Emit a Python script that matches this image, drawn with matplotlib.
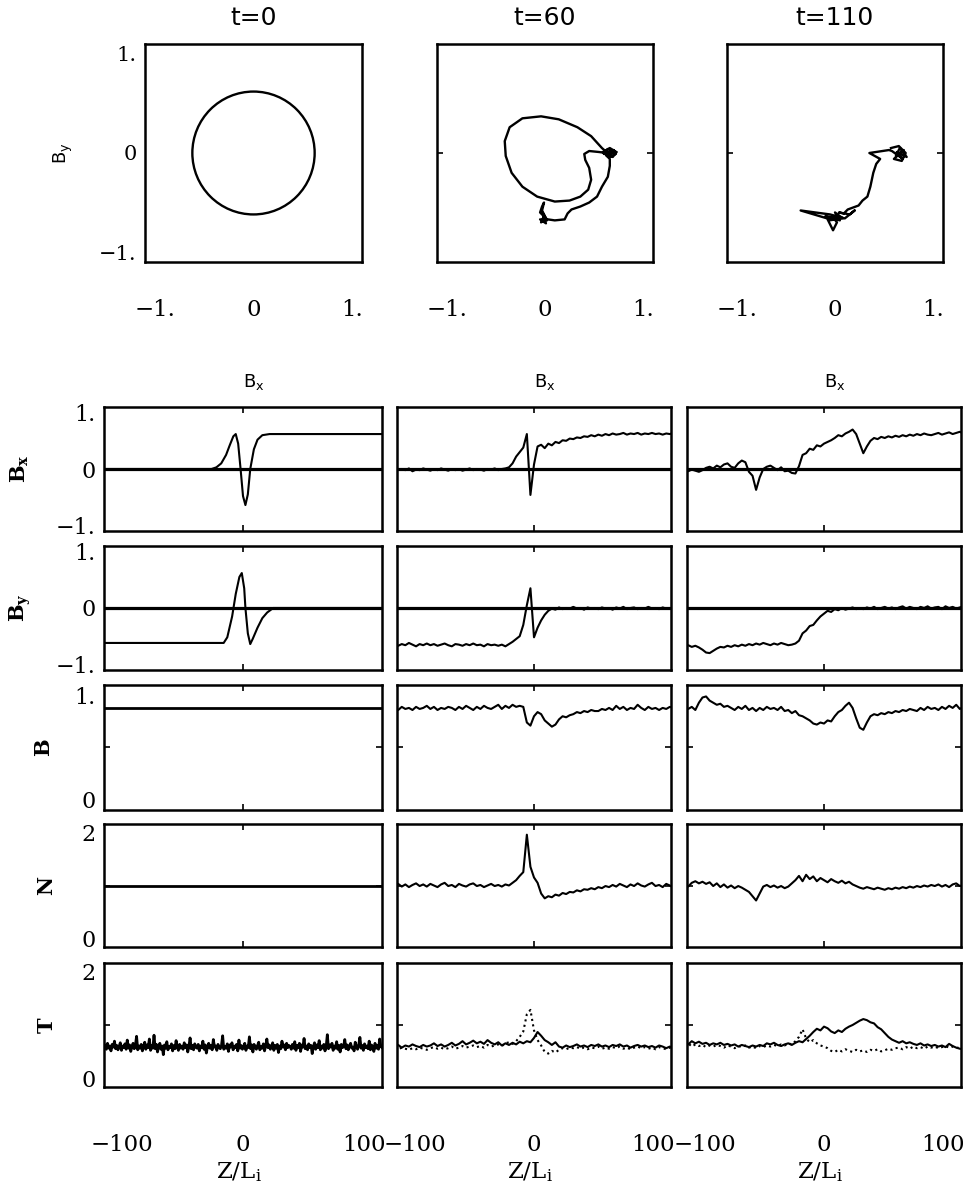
import matplotlib
matplotlib.use('Agg')
import matplotlib.pyplot as plt
from matplotlib.patches import Circle
import numpy as np

W, H = 963, 1191

titles = ['t=0', 't=60', 't=110']
row_names = [r'$\mathbf{B_x}$', r'$\mathbf{B_y}$', r'$\mathbf{B}$', r'$\mathbf{N}$', r'$\mathbf{T}$']

# ---- hodogramme (Bx, By) ----
b_perp0 = 0.62  # Radius des Kreises bei t=0

hx60 = [-0.02, 0.01, -0.04, -0.01, -0.05, -0.03, -0.01, -0.03, 0.02, -0.05, 0.01, -0.02, 0.03,
        0.10, 0.20, 0.23, 0.27, 0.36, 0.45, 0.53, 0.58, 0.64, 0.66, 0.66,
        0.62, 0.68, 0.72, 0.65, 0.59, 0.66, 0.71, 0.63, 0.69, 0.73, 0.64, 0.60, 0.70, 0.66,
        0.58, 0.47, 0.33, 0.14, -0.04, -0.23, -0.36, -0.41, -0.40, -0.34, -0.23, -0.08,
        0.10, 0.25, 0.36, 0.44, 0.47, 0.45, 0.41, 0.40, 0.45, 0.55, 0.62]
hy60 = [-0.61, -0.66, -0.70, -0.64, -0.60, -0.54, -0.50, -0.58, -0.68, -0.67, -0.71, -0.65, -0.67,
        -0.68, -0.67, -0.61, -0.57, -0.54, -0.50, -0.44, -0.34, -0.24, -0.13, -0.06,
        -0.02, 0.03, -0.01, -0.04, 0.01, 0.05, 0.02, -0.03, -0.04, 0.01, 0.04, -0.01, 0.03, -0.02,
        0.05, 0.17, 0.26, 0.34, 0.37, 0.35, 0.26, 0.12, -0.03, -0.20, -0.34, -0.44,
        -0.49, -0.48, -0.44, -0.37, -0.27, -0.15, -0.07, -0.01, 0.02, 0.01, 0.00]

hx110 = [0.57, 0.65, 0.72, 0.68, 0.60, 0.70, 0.62, 0.66, 0.73, 0.63, 0.69, 0.58, 0.55,
         0.35, 0.46, 0.42, 0.39, 0.36, 0.33, 0.28, 0.24, 0.13, 0.09,
         0.04, 0.15, 0.20, 0.10, -0.05, -0.35, -0.08, -0.02, 0.02, -0.02,
         -0.10, 0.05, 0.00, 0.08, -0.06, 0.03]
hy110 = [0.05, 0.07, 0.00, -0.08, -0.06, 0.03, -0.03, 0.05, -0.04, 0.01, -0.06, 0.02, 0.03,
         0.00, -0.06, -0.11, -0.20, -0.34, -0.44, -0.48, -0.53, -0.57, -0.61,
         -0.60, -0.62, -0.58, -0.66, -0.62, -0.58, -0.66, -0.78, -0.70, -0.65,
         -0.64, -0.68, -0.60, -0.66, -0.68, -0.63]

# ---- Profile bei t=0 ----
z_bx0 = [-119, -26, -22, -18, -14, -11, -8, -6, -4, -2, 0, 2, 4, 6, 9, 12, 16, 22, 119]
bx0 = [0.0, 0.0, 0.03, 0.10, 0.25, 0.42, 0.58, 0.62, 0.45, 0.0, -0.48, -0.64, -0.45, 0.0,
       0.35, 0.52, 0.60, 0.62, 0.62]
z_by0 = [-119, -16, -13, -9, -6, -3, -1, 1, 2, 4, 6, 8, 12, 16, 20, 25, 119]
by0 = [-0.62, -0.62, -0.52, -0.15, 0.25, 0.55, 0.62, 0.35, 0.0, -0.45, -0.64, -0.55,
       -0.35, -0.18, -0.08, 0.0, 0.0]
z_flat = [-119, 119]
b0 = [0.88, 0.88]
n0 = [1.0, 1.0]
t0 = [0.58, 0.63, 0.55, 0.66, 0.57, 0.61, 0.52, 0.64, 0.59, 0.70,
      0.56, 0.62, 0.54, 0.60, 0.67, 0.53, 0.61, 0.58, 0.65, 0.55,
      0.72, 0.57, 0.63, 0.51, 0.60, 0.66, 0.56, 0.62, 0.79, 0.54,
      0.61, 0.57, 0.64, 0.52, 0.59, 0.68, 0.55, 0.63, 0.58, 0.74,
      0.53, 0.62, 0.57, 0.81, 0.56, 0.64, 0.50, 0.60, 0.66, 0.55,
      0.61, 0.45, 0.63, 0.57, 0.69, 0.54, 0.60, 0.58, 0.65, 0.52,
      0.62, 0.56, 0.71, 0.59, 0.53, 0.64, 0.57, 0.61, 0.55, 0.67,
      0.58, 0.63, 0.50, 0.60, 0.76, 0.56, 0.62, 0.54, 0.65, 0.59,
      0.57, 0.64, 0.52, 0.61, 0.58, 0.70, 0.55, 0.63, 0.48, 0.60,
      0.66, 0.57, 0.62, 0.54, 0.73, 0.59, 0.61, 0.53, 0.64, 0.58,
      0.56, 0.62, 0.80, 0.55, 0.60, 0.57, 0.65, 0.51, 0.63, 0.59,
      0.67, 0.54, 0.61, 0.58, 0.64, 0.52, 0.72, 0.57, 0.62, 0.55,
      0.60, 0.66, 0.53, 0.61, 0.58, 0.78, 0.56, 0.63, 0.50, 0.64,
      0.59, 0.55, 0.62, 0.68, 0.54, 0.60, 0.57, 0.65, 0.52, 0.61,
      0.74, 0.58, 0.63, 0.55, 0.60, 0.67, 0.53, 0.62, 0.57, 0.64,
      0.49, 0.61, 0.56, 0.70, 0.59, 0.63, 0.54, 0.66, 0.58, 0.62,
      0.60, 0.55, 0.64, 0.57, 0.69, 0.53, 0.62, 0.58, 0.66, 0.51,
      0.63, 0.59, 0.75, 0.56, 0.61, 0.54, 0.65, 0.58, 0.62, 0.47,
      0.60, 0.67, 0.55, 0.63, 0.58, 0.71, 0.54, 0.61, 0.57, 0.64,
      0.52, 0.60, 0.82, 0.56, 0.63, 0.59, 0.66, 0.53, 0.61, 0.57,
      0.69, 0.55, 0.62, 0.50, 0.64, 0.58, 0.60, 0.73, 0.56, 0.63,
      0.54, 0.61, 0.66, 0.57, 0.59, 0.52, 0.68, 0.60, 0.55, 0.63,
      0.77, 0.57, 0.62, 0.53, 0.65, 0.58, 0.61, 0.56, 0.70, 0.54,
      0.63, 0.59, 0.51, 0.66, 0.57, 0.62, 0.55, 0.74, 0.60, 0.58]
z_t0 = np.linspace(-115, 115, len(t0))

# ---- Profile bei t=60 und t=110 (Z = -117 ... 117, Schritt 3) ----
z = np.linspace(-117, 117, 79)

bx60 = [0.05, -0.01, 0.00, -0.02, 0.01, -0.04, -0.01, -0.02, 0.01, -0.01,
        -0.03, 0.00, -0.02, 0.01, -0.01, -0.03, 0.00, -0.02, 0.00, -0.03,
        -0.01, 0.01, -0.02, 0.00, -0.01, -0.03, 0.00, -0.01, 0.01, -0.02,
        0.00, 0.01, 0.03, 0.10, 0.22, 0.30, 0.38, 0.62, -0.46, 0.08,
        0.40, 0.43, 0.37, 0.45, 0.42, 0.48, 0.46, 0.51, 0.50, 0.54,
        0.53, 0.56, 0.55, 0.58, 0.57, 0.60, 0.58, 0.61, 0.59, 0.62,
        0.60, 0.63, 0.61, 0.62, 0.64, 0.61, 0.63, 0.62, 0.64, 0.61,
        0.63, 0.62, 0.64, 0.62, 0.63, 0.61, 0.63, 0.62, 0.64]
by60 = [-0.63, -0.67, -0.64, -0.66, -0.62, -0.65, -0.68, -0.64, -0.66, -0.63,
        -0.66, -0.64, -0.67, -0.65, -0.63, -0.66, -0.68, -0.64, -0.65, -0.67,
        -0.64, -0.66, -0.63, -0.66, -0.65, -0.68, -0.64, -0.66, -0.65, -0.67,
        -0.65, -0.68, -0.64, -0.60, -0.55, -0.50, -0.30, 0.05, 0.35, -0.52,
        -0.35, -0.22, -0.12, -0.05, -0.01, -0.03, 0.01, -0.02, 0.00, -0.01,
        0.02, -0.01, 0.00, -0.03, 0.01, -0.01, 0.00, -0.02, 0.01, -0.01,
        0.00, -0.03, 0.01, -0.01, 0.02, -0.02, 0.00, 0.01, -0.02, 0.00,
        -0.01, 0.02, -0.01, 0.00, -0.02, 0.01, -0.01, 0.00, -0.01]
b60 = [0.88, 0.86, 0.89, 0.87, 0.88, 0.86, 0.89, 0.87, 0.88, 0.90,
       0.87, 0.89, 0.86, 0.88, 0.87, 0.89, 0.88, 0.86, 0.89, 0.87,
       0.90, 0.88, 0.86, 0.89, 0.87, 0.90, 0.88, 0.87, 0.89, 0.91,
       0.87, 0.90, 0.88, 0.91, 0.89, 0.90, 0.89, 0.74, 0.71, 0.80,
       0.84, 0.82, 0.76, 0.73, 0.70, 0.72, 0.77, 0.80, 0.79, 0.81,
       0.82, 0.84, 0.83, 0.85, 0.84, 0.86, 0.85, 0.85, 0.87, 0.86,
       0.88, 0.86, 0.90, 0.87, 0.89, 0.86, 0.88, 0.87, 0.91, 0.88,
       0.86, 0.89, 0.87, 0.88, 0.86, 0.88, 0.87, 0.89, 0.88]
n60 = [1.00, 1.03, 0.98, 1.02, 0.97, 1.01, 1.04, 0.99, 1.02, 0.98,
       1.03, 1.00, 0.97, 1.02, 1.05, 0.99, 1.01, 0.97, 1.03, 1.00,
       0.98, 1.02, 1.04, 0.99, 1.01, 0.97, 1.00, 1.03, 0.99, 1.01,
       0.98, 1.02, 1.00, 1.05, 1.10, 1.18, 1.25, 1.95, 1.35, 1.15,
       1.05, 0.85, 0.76, 0.80, 0.78, 0.83, 0.81, 0.86, 0.84, 0.88,
       0.87, 0.91, 0.89, 0.93, 0.92, 0.95, 0.93, 0.97, 0.95, 0.99,
       0.97, 1.01, 0.98, 1.03, 1.00, 0.97, 1.02, 0.99, 1.04, 1.00,
       0.98, 1.02, 1.05, 0.99, 1.01, 0.97, 1.03, 1.00, 0.96]
t60 = [0.60, 0.63, 0.58, 0.62, 0.60, 0.64, 0.61, 0.59, 0.63, 0.60,
       0.62, 0.66, 0.61, 0.64, 0.60, 0.63, 0.67, 0.62, 0.65, 0.70,
       0.64, 0.67, 0.71, 0.66, 0.69, 0.65, 0.72, 0.67, 0.64, 0.68,
       0.62, 0.66, 0.63, 0.67, 0.64, 0.69, 0.66, 0.70, 0.68, 0.76,
       0.87, 0.80, 0.72, 0.68, 0.63, 0.68, 0.60, 0.58, 0.62, 0.59,
       0.61, 0.64, 0.60, 0.62, 0.59, 0.63, 0.61, 0.64, 0.60, 0.62,
       0.59, 0.63, 0.61, 0.64, 0.60, 0.62, 0.58, 0.61, 0.63, 0.60,
       0.62, 0.59, 0.61, 0.58, 0.62, 0.60, 0.57, 0.60, 0.58]
tdot60 = [0.57, 0.55, 0.58, 0.56, 0.54, 0.57, 0.55, 0.58, 0.56, 0.54,
          0.57, 0.59, 0.56, 0.58, 0.55, 0.57, 0.60, 0.56, 0.58, 0.61,
          0.58, 0.60, 0.62, 0.59, 0.61, 0.58, 0.63, 0.60, 0.62, 0.64,
          0.61, 0.66, 0.68, 0.65, 0.70, 0.78, 0.88, 1.20, 1.28, 0.90,
          0.72, 0.62, 0.50, 0.47, 0.52, 0.49, 0.54, 0.57, 0.55, 0.58,
          0.57, 0.59, 0.56, 0.58, 0.55, 0.58, 0.57, 0.60, 0.56, 0.58,
          0.56, 0.59, 0.57, 0.60, 0.56, 0.58, 0.55, 0.58, 0.60, 0.57,
          0.59, 0.56, 0.58, 0.55, 0.59, 0.57, 0.55, 0.58, 0.56]

bx110 = [-0.02, -0.04, -0.01, -0.03, -0.05, -0.02, 0.02, 0.04, 0.01, 0.06,
         0.03, 0.08, 0.10, 0.04, 0.02, 0.10, 0.15, 0.12, -0.05, -0.12,
         -0.37, -0.15, 0.00, 0.04, 0.06, 0.02, -0.02, 0.03, -0.04, -0.03,
         -0.07, -0.08, 0.05, 0.25, 0.28, 0.36, 0.34, 0.42, 0.40, 0.45,
         0.48, 0.51, 0.55, 0.60, 0.58, 0.63, 0.66, 0.70, 0.62, 0.45,
         0.28, 0.40, 0.50, 0.55, 0.53, 0.57, 0.55, 0.58, 0.56, 0.59,
         0.57, 0.60, 0.58, 0.61, 0.59, 0.62, 0.60, 0.63, 0.61, 0.60,
         0.62, 0.64, 0.61, 0.63, 0.65, 0.62, 0.64, 0.66, 0.63]
by110 = [-0.68, -0.66, -0.69, -0.67, -0.70, -0.74, -0.79, -0.80, -0.76, -0.72,
         -0.69, -0.70, -0.67, -0.69, -0.66, -0.68, -0.65, -0.67, -0.64, -0.66,
         -0.63, -0.65, -0.62, -0.64, -0.66, -0.63, -0.65, -0.62, -0.64, -0.66,
         -0.65, -0.63, -0.58, -0.45, -0.40, -0.32, -0.30, -0.22, -0.15, -0.10,
         -0.05, -0.07, -0.02, -0.04, 0.00, -0.03, -0.01, 0.01, -0.02, 0.00,
         -0.02, 0.01, -0.01, 0.02, -0.02, 0.00, 0.02, -0.01, 0.01, -0.02,
         0.01, 0.03, -0.01, 0.02, 0.00, -0.02, 0.02, 0.00, 0.03, -0.01,
         0.01, 0.02, -0.02, 0.03, 0.00, 0.02, -0.01, 0.01, 0.03]
b110 = [0.88, 0.87, 0.89, 0.86, 0.93, 0.98, 0.99, 0.95, 0.93, 0.91,
        0.92, 0.89, 0.90, 0.88, 0.86, 0.89, 0.87, 0.90, 0.86, 0.88,
        0.85, 0.88, 0.86, 0.89, 0.87, 0.88, 0.86, 0.89, 0.85, 0.86,
        0.83, 0.85, 0.81, 0.80, 0.78, 0.76, 0.73, 0.72, 0.74, 0.73,
        0.76, 0.75, 0.80, 0.84, 0.86, 0.90, 0.93, 0.88, 0.78, 0.69,
        0.67, 0.74, 0.80, 0.82, 0.81, 0.83, 0.82, 0.84, 0.83, 0.85,
        0.84, 0.86, 0.85, 0.87, 0.86, 0.85, 0.88, 0.86, 0.89, 0.87,
        0.88, 0.86, 0.89, 0.87, 0.90, 0.88, 0.91, 0.87, 0.89]
n110 = [1.02, 0.98, 1.05, 1.08, 1.04, 1.07, 1.03, 1.06, 0.99, 1.04,
        0.97, 1.02, 0.96, 1.00, 0.95, 0.99, 0.96, 0.92, 0.88, 0.80,
        0.72, 0.85, 0.98, 1.01, 0.97, 1.00, 0.96, 0.99, 0.95, 0.98,
        1.04, 1.10, 1.18, 1.08, 1.20, 1.12, 1.17, 1.08, 1.14, 1.10,
        1.06, 1.12, 1.08, 1.05, 1.09, 1.04, 1.07, 1.02, 0.99, 0.96,
        0.94, 0.97, 0.95, 0.93, 0.96, 0.94, 0.92, 0.95, 0.93, 0.96,
        0.94, 0.97, 0.95, 0.98, 0.96, 0.99, 0.97, 1.00, 0.98, 1.01,
        0.99, 1.02, 0.98, 1.01, 0.97, 1.02, 1.04, 0.99, 1.01]
t110 = [0.68, 0.64, 0.70, 0.66, 0.69, 0.65, 0.67, 0.63, 0.66, 0.64,
        0.67, 0.63, 0.65, 0.62, 0.64, 0.60, 0.63, 0.61, 0.59, 0.62,
        0.60, 0.63, 0.61, 0.66, 0.64, 0.67, 0.63, 0.61, 0.64, 0.66,
        0.63, 0.67, 0.70, 0.68, 0.74, 0.80, 0.87, 0.93, 0.90, 0.97,
        0.94, 0.88, 0.85, 0.90, 0.87, 0.93, 0.97, 1.00, 1.04, 1.08,
        1.11, 1.09, 1.05, 1.03, 0.96, 0.92, 0.85, 0.78, 0.73, 0.70,
        0.67, 0.70, 0.66, 0.68, 0.65, 0.63, 0.66, 0.62, 0.64, 0.61,
        0.63, 0.60, 0.62, 0.59, 0.65, 0.61, 0.58, 0.56, 0.55]
tdot110 = [0.62, 0.66, 0.60, 0.64, 0.61, 0.63, 0.59, 0.62, 0.60, 0.63,
           0.61, 0.58, 0.62, 0.60, 0.57, 0.61, 0.59, 0.62, 0.58, 0.60,
           0.57, 0.61, 0.59, 0.62, 0.60, 0.63, 0.61, 0.64, 0.62, 0.66,
           0.64, 0.70, 0.78, 0.92, 0.75, 0.68, 0.72, 0.66, 0.62, 0.60,
           0.57, 0.52, 0.50, 0.54, 0.51, 0.55, 0.52, 0.50, 0.54, 0.51,
           0.53, 0.50, 0.54, 0.52, 0.55, 0.51, 0.53, 0.56, 0.54, 0.57,
           0.58, 0.55, 0.59, 0.56, 0.60, 0.57, 0.59, 0.56, 0.60, 0.58,
           0.60, 0.57, 0.59, 0.61, 0.58, 0.60, 0.57, 0.59, 0.56]

# Kurven je Spalte und Zeile: (z, werte, linienstil)
columns = [
    [[(z_bx0, bx0, '-')], [(z_by0, by0, '-')], [(z_flat, b0, '-')], [(z_flat, n0, '-')],
     [(z_t0, t0, '-')]],
    [[(z, bx60, '-')], [(z, by60, '-')], [(z, b60, '-')], [(z, n60, '-')],
     [(z, t60, '-'), (z, tdot60, ':')]],
    [[(z, bx110, '-')], [(z, by110, '-')], [(z, b110, '-')], [(z, n110, '-')],
     [(z, t110, '-'), (z, tdot110, ':')]],
]

# y-Achsen der Zeilen: Grenzen, beschriftete Ticks, Mittel-Tick
row_axes = [
    ((-1.1, 1.1), [-1, 0, 1], ['\u22121.', '0', '1.'], 0),
    ((-1.1, 1.1), [-1, 0, 1], ['\u22121.', '0', '1.'], 0),
    ((-0.1, 1.1), [0, 1], ['0', '1.'], 0.5),
    ((-0.15, 2.15), [0, 2], ['0', '2'], 1),
    ((-0.15, 2.15), [0, 2], ['0', '2'], 1),
]

serif = 'DejaVu Serif'
sans = 'DejaVu Sans'
plt.rcParams['font.family'] = serif
plt.rcParams['mathtext.fontset'] = 'dejavuserif'
plt.rcParams['axes.unicode_minus'] = True

fig = plt.figure(figsize=(W / 100, H / 100), dpi=100)


# Achse in Pixelkoordinaten des Bildes anlegen
def add_box(x0, y0, x1, y1):
    ax = fig.add_axes([x0 / W, 1 - y1 / H, (x1 - x0) / W, (y1 - y0) / H])
    for s in ax.spines.values():
        s.set_linewidth(1.8)
    return ax


top_x = [(145, 362), (437, 653), (727, 943)]
hodo = [None, (hx60, hy60), (hx110, hy110)]

for k, (x0, x1) in enumerate(top_x):
    ax = add_box(x0, 44, x1, 262)
    ax.set_xlim(-1.1, 1.1)
    ax.set_ylim(-1.1, 1.1)
    if k == 0:
        ax.add_patch(Circle((0, 0), b_perp0, fill=False, lw=1.7, color='k'))
    else:
        ax.plot(hodo[k][0], hodo[k][1], color='k', lw=1.7)
    ax.set_xticks([-1, 0, 1])
    ax.set_xticklabels(['\u22121.', '0', '1.'], fontsize=16.5)
    ax.tick_params(axis='x', length=0, pad=27)
    if k == 0:
        ax.set_yticks([-1, 0, 1])
        ax.set_yticklabels(['\u22121.', '0', '1.'], fontsize=15)
        ax.tick_params(axis='y', length=0, pad=6)
        fig.text(63 / W, 1 - 153 / H, r'$\mathregular{B_y}$', family=sans, fontsize=13,
                 rotation=90, ha='center', va='center')
    else:
        ax.set_yticks([])
    ax.set_xticks([0], minor=True)
    ax.set_yticks([0], minor=True)
    ax.tick_params(which='minor', direction='in', length=4, width=1.2,
                   top=True, bottom=True, left=True, right=True)
    cx = (x0 + x1) / 2
    fig.text(cx / W, 1 - 18 / H, titles[k], family=sans, fontsize=18, ha='center', va='center')
    fig.text(cx / W, 1 - 382 / H, r'$\mathregular{B_x}$', family=sans, fontsize=13,
             ha='center', va='center')

cols_x = [(104, 382), (397, 671), (687, 961)]
rows_y = [(407, 531), (546, 670), (685, 810), (824, 947), (963, 1087)]
label_x = [20, 20, 44, 47, 47]

for c, (x0, x1) in enumerate(cols_x):
    for r, (y0, y1) in enumerate(rows_y):
        ax = add_box(x0, y0, x1, y1)
        ylim, yt, ytl, ymid = row_axes[r]
        ax.set_xlim(-115, 115)
        ax.set_ylim(*ylim)
        if r < 2:
            ax.axhline(0, color='k', lw=2.3)
        for zz, vals, ls in columns[c][r]:
            if len(vals) == 2:
                lw = 2.0
            elif len(vals) > 100:
                lw = 2.0
            else:
                lw = 1.5
            ax.plot(zz, vals, color='k', lw=lw, linestyle=ls)
        if r == 4:
            ax.set_xticks([-100, 0, 100])
            ax.set_xticklabels(['\u2212100', '0', '100'], fontsize=16.5)
            ax.tick_params(axis='x', length=0, pad=34)
            fig.text(((x0 + x1) / 2 - 4) / W, 1 - 1172 / H, r'$\mathregular{Z/L_i}$',
                     fontsize=16.5, ha='center', va='center')
        else:
            ax.set_xticks([])
        if c == 0:
            ax.set_yticks(yt)
            ax.set_yticklabels(ytl, fontsize=16)
            ax.tick_params(axis='y', length=0, pad=6)
            fig.text(label_x[r] / W, 1 - (y0 + y1) / 2 / H, row_names[r], fontsize=15,
                     rotation=90, ha='center', va='center')
        else:
            ax.set_yticks([])
        ax.set_xticks([0], minor=True)
        ax.set_yticks([ymid], minor=True)
        ax.tick_params(which='minor', direction='in', length=4, width=1.2,
                       top=True, bottom=True, left=True, right=True)

fig.savefig('out.png', dpi=100, facecolor='white')
